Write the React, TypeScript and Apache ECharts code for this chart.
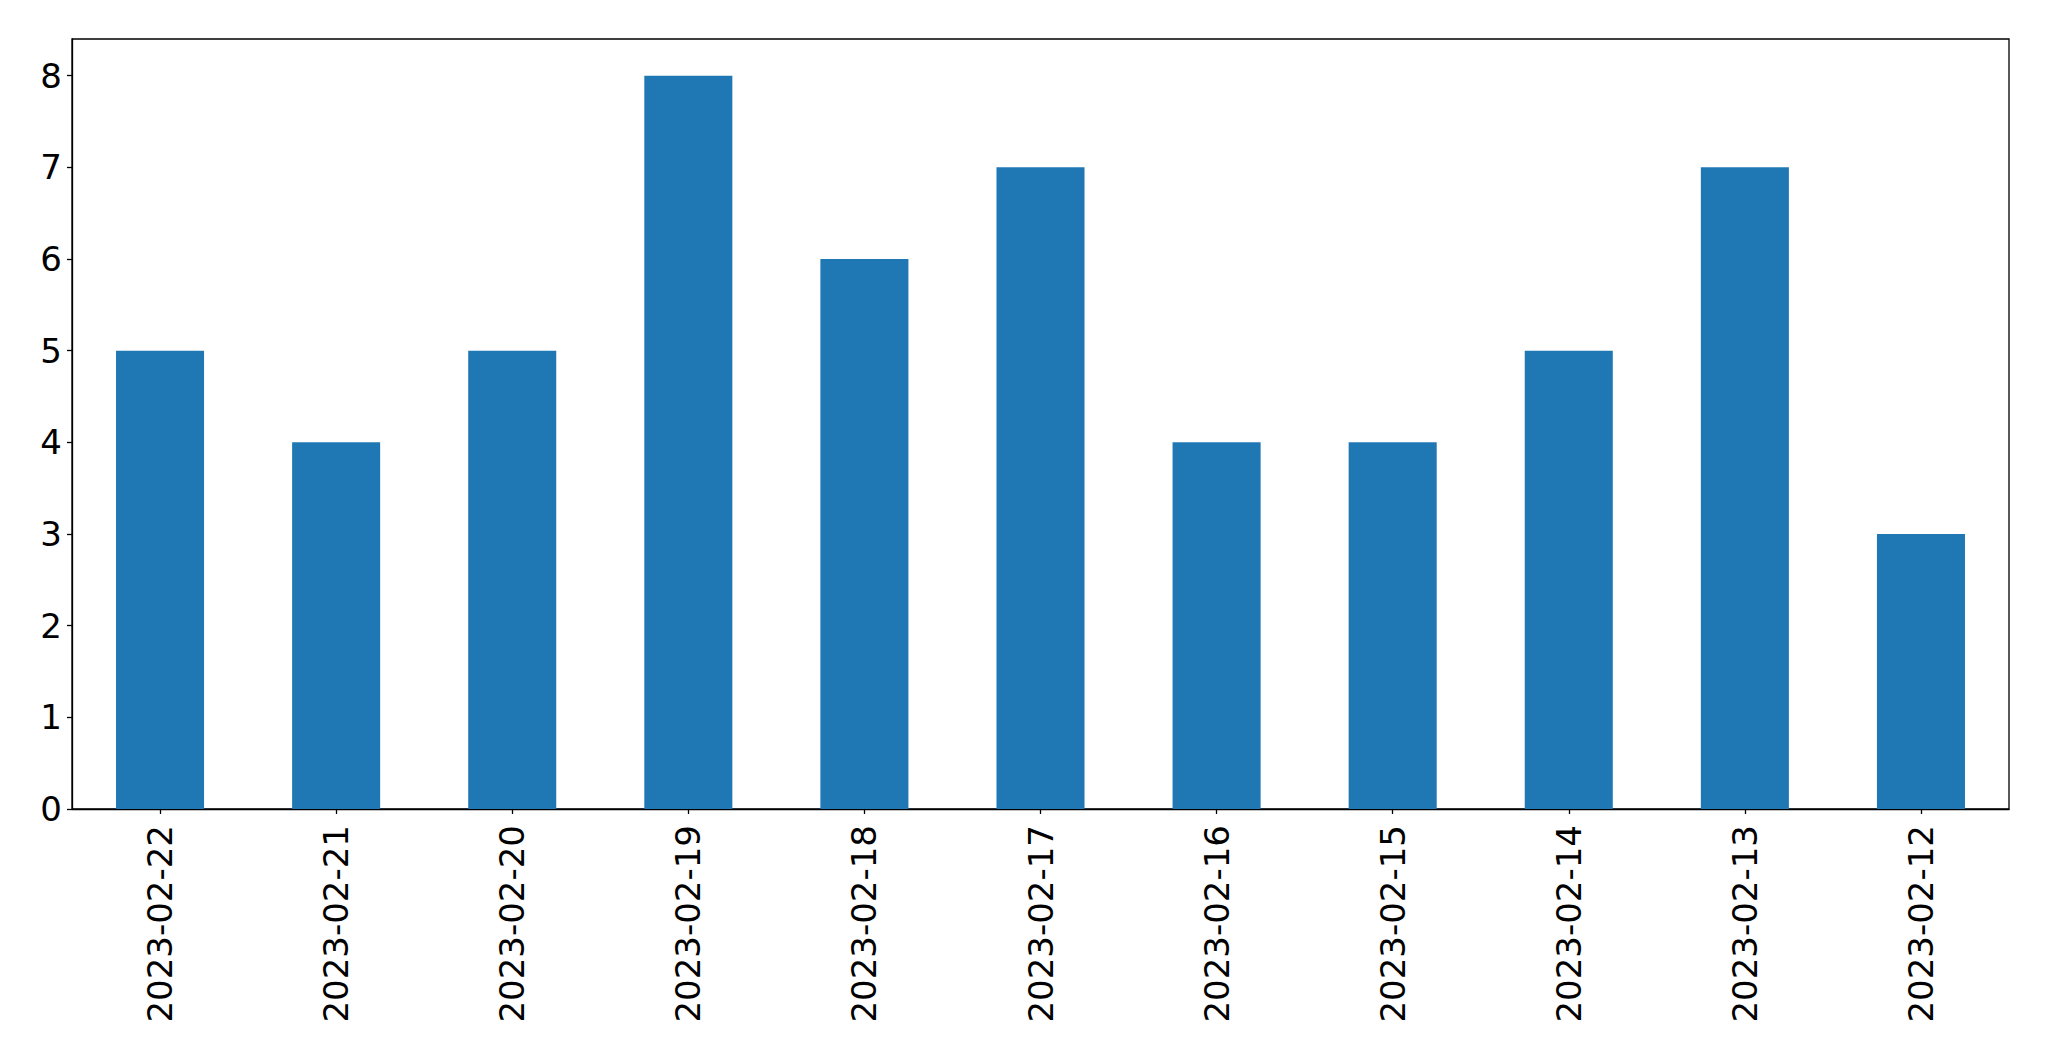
import React, { useEffect, useRef } from "react";
import * as echarts from "echarts";

const categories = [
  "2023-02-22",
  "2023-02-21",
  "2023-02-20",
  "2023-02-19",
  "2023-02-18",
  "2023-02-17",
  "2023-02-16",
  "2023-02-15",
  "2023-02-14",
  "2023-02-13",
  "2023-02-12",
];
const values = [5, 4, 5, 8, 6, 7, 4, 4, 5, 7, 3];
const yTicks = [0, 1, 2, 3, 4, 5, 6, 7, 8];
const yMax = 8.4;

export default function App() {
  const ref = useRef<HTMLDivElement>(null);
  useEffect(() => {
    document.body.style.margin = "0";
    if (!ref.current) return;
    const chart = echarts.init(ref.current, undefined, { renderer: "svg" });
    const font = "DejaVu Sans";
    chart.setOption({
      animation: false,
      backgroundColor: "#ffffff",
      grid: {
        left: 72,
        right: 40,
        top: 39,
        bottom: 252,
        show: true,
        borderColor: "#000000",
        borderWidth: 1.3,
        backgroundColor: "transparent",
      },
      xAxis: {
        type: "category",
        data: categories,
        boundaryGap: true,
        axisLine: { show: true, lineStyle: { color: "#000000", width: 1.3 } },
        axisTick: {
          show: true,
          alignWithLabel: true,
          length: 5,
          lineStyle: { color: "#000000", width: 1.3 },
        },
        axisLabel: {
          interval: 0,
          rotate: 90,
          margin: 16,
          color: "#000000",
          fontFamily: font,
          fontSize: 34,
        },
        splitLine: { show: false },
      },
      yAxis: {
        type: "value",
        min: 0,
        max: yMax,
        interval: 1,
        axisLine: { show: true, lineStyle: { color: "#000000", width: 1.3 } },
        axisTick: {
          show: true,
          length: 5,
          customValues: yTicks,
          lineStyle: { color: "#000000", width: 1.3 },
        },
        axisLabel: {
          customValues: yTicks,
          margin: 10,
          color: "#000000",
          fontFamily: font,
          fontSize: 34,
        },
        splitLine: { show: false },
      },
      series: [
        {
          type: "bar",
          data: values,
          barCategoryGap: "50%",
          itemStyle: { color: "#1f77b4" },
        },
      ],
    });
    return () => chart.dispose();
  }, []);
  return <div ref={ref} style={{ width: 2049, height: 1061 }} />;
}
